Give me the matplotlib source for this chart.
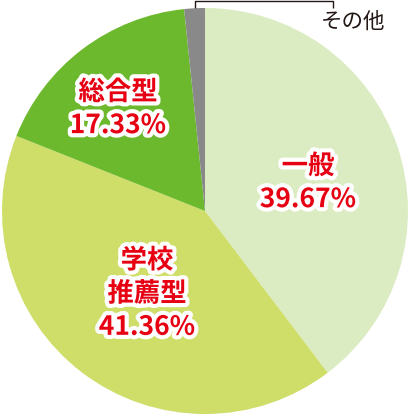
import matplotlib.pyplot as plt
import matplotlib.patheffects as pe

plt.rcParams['font.family'] = ['Noto Sans CJK JP', 'DejaVu Sans']

# shares in percent, clockwise from 12 o'clock
labels = ["一般", "学校\n推薦型", "総合型", "その他"]
shares = [39.67, 41.36, 17.33, 1.64]
colors = ["#dcecc2", "#cfdd69", "#6db92e", "#898989"]

W, H = 408, 416
fig = plt.figure(figsize=(W / 100, H / 100), dpi=100)
ax = fig.add_axes([0, 0, 1, 1])

cx, cy, r = 205, H - 211, 203
ax.pie(shares, colors=colors, startangle=90, counterclock=False,
       center=(cx, cy), radius=r, frame=True,
       wedgeprops=dict(linewidth=0))
ax.set_xlim(0, W)
ax.set_ylim(0, H)
ax.set_aspect("equal")
ax.axis("off")

# label positions (pixel coords, top-down)
label_pos = [(308, 183), (147, 294), (118, 109)]
outline = [pe.withStroke(linewidth=6, foreground="white")]
for (x, y), name, val in zip(label_pos, labels, shares):
    ax.text(x, H - y, f"{name}\n{val:.2f}%", ha="center", va="center",
            fontsize=19, fontweight="bold", color="#e60012",
            linespacing=1.3, path_effects=outline)

# leader line for the small slice
ax.plot([195, 195, 333, 333], [H - 8, H - 1, H - 1, H - 8],
        color="#231815", lw=1, solid_capstyle="butt")
ax.text(353, H - 22, labels[3], ha="center", va="center",
        fontsize=15.5, color="#231815")

fig.savefig("out.png", dpi=100)
